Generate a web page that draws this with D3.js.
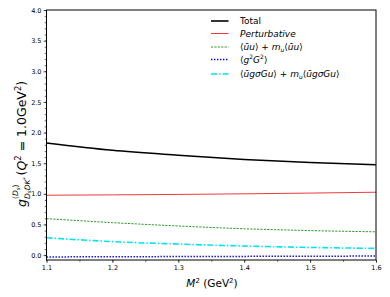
<!DOCTYPE html>
<html>
<head>
<meta charset="utf-8">
<script src="https://cdn.jsdelivr.net/npm/d3@7"></script>
<style>
  body { margin: 0; background: #fff; }
  text { font-family: "DejaVu Sans", sans-serif; }
</style>
</head>
<body>
<script>
const w = 390,
  h = 297;
const margin = { top: 10, right: 14, bottom: 37, left: 46.5 };

// M^2 values (GeV^2)
const m2 = [1.1, 1.2, 1.3, 1.4, 1.5, 1.6];
const total = [1.83, 1.71, 1.63, 1.56, 1.51, 1.475];
const perturbative = [0.977, 0.983, 0.990, 1.000, 1.012, 1.026];
const quarkCond = [0.595, 0.53, 0.475, 0.43, 0.40, 0.38];
const gluonCond = [-0.03, -0.027, -0.024, -0.021, -0.018, -0.016];
const mixedCond = [0.283, 0.22, 0.18, 0.148, 0.125, 0.11];

const xTicks = [1.1, 1.2, 1.3, 1.4, 1.5, 1.6];
const yTicks = [0, 0.5, 1, 1.5, 2, 2.5, 3, 3.5, 4];

const series = [
  { name: 'Total', values: total, color: '#000', width: 1.6, dash: null },
  { name: 'Perturbative', values: perturbative, color: '#f03a3a', width: 1, dash: null },
  { name: 'quark', values: quarkCond, color: '#1a8a1a', width: 0.9, dash: '2.2,1.2' },
  { name: 'gluon', values: gluonCond, color: '#0000ff', width: 1.5, dash: '1.4,1.6' },
  { name: 'mixed', values: mixedCond, color: '#00e5ee', width: 1.6, dash: '6,2,1.5,2' }
];

const xScale = d3.scaleLinear()
  .domain([1.1, 1.6])
  .range([margin.left, w - margin.right]);

const yScale = d3.scaleLinear()
  .domain([-0.08, 4.0])
  .range([h - margin.bottom, margin.top]);

const svg = d3.select('body')
  .append('svg')
  .attr('width', w)
  .attr('height', h);

const line = d3.line()
  .x((d, i) => xScale(m2[i]))
  .y(d => yScale(d))
  .curve(d3.curveMonotoneX);

const plot = svg.append('g');

plot.selectAll('path.series')
  .data(series)
  .enter()
  .append('path')
  .attr('class', 'series')
  .attr('d', d => line(d.values))
  .attr('fill', 'none')
  .attr('stroke', d => d.color)
  .attr('stroke-width', d => d.width)
  .attr('stroke-dasharray', d => d.dash);

// axes
const xAxis = d3.axisBottom(xScale)
  .tickValues(xTicks)
  .tickFormat(d3.format('.1f'))
  .tickSize(3)
  .tickPadding(2);

const xMinor = d3.axisBottom(xScale)
  .tickValues(d3.range(1.1, 1.6001, 0.05))
  .tickFormat('')
  .tickSize(1.8);

const yAxis = d3.axisLeft(yScale)
  .tickValues(yTicks)
  .tickFormat(d3.format('.1f'))
  .tickSize(3)
  .tickPadding(2);

const yMinor = d3.axisLeft(yScale)
  .tickValues(d3.range(-0.0, 4.0001, 0.1))
  .tickFormat('')
  .tickSize(1.8);

svg.append('g')
  .attr('transform', `translate(0, ${h - margin.bottom})`)
  .call(xMinor);
svg.append('g')
  .attr('class', 'x axis')
  .attr('transform', `translate(0, ${h - margin.bottom})`)
  .call(xAxis);
svg.append('g')
  .attr('transform', `translate(${margin.left}, 0)`)
  .call(yMinor);
svg.append('g')
  .attr('class', 'y axis')
  .attr('transform', `translate(${margin.left}, 0)`)
  .call(yAxis);

svg.selectAll('.domain').remove();
svg.selectAll('.tick line').attr('stroke', '#000').attr('stroke-width', 0.6);
svg.selectAll('.tick text').attr('font-size', 6.5).attr('fill', '#000');

// frame
svg.append('rect')
  .attr('x', margin.left)
  .attr('y', margin.top)
  .attr('width', w - margin.left - margin.right)
  .attr('height', h - margin.top - margin.bottom)
  .attr('fill', 'none')
  .attr('stroke', '#000')
  .attr('stroke-width', 1);

// x label
const xl = svg.append('text')
  .attr('x', 212)
  .attr('y', 286.5)
  .attr('text-anchor', 'middle')
  .attr('font-size', 10.5);
xl.append('tspan').attr('font-style', 'italic').text('M');
xl.append('tspan').attr('font-size', 7).attr('dy', -4).text('2');
xl.append('tspan').attr('dy', 4).text(' (GeV');
xl.append('tspan').attr('font-size', 7).attr('dy', -4).text('2');
xl.append('tspan').attr('dy', 4).text(')');

// y label (rotated)
const yl = svg.append('g').attr('transform', 'translate(26, 138.5) rotate(-90)');
yl.append('text').attr('font-size', 12.5).attr('x', -68.5)
  .attr('font-style', 'italic').text('g');
const ySup = yl.append('text').attr('font-size', 7.5).attr('x', -60.5).attr('y', -8);
ySup.append('tspan').text('(');
ySup.append('tspan').attr('font-style', 'italic').text('D');
ySup.append('tspan').attr('font-style', 'italic').attr('font-size', 5.5).attr('dy', 1.5).text('s');
ySup.append('tspan').attr('dy', -1.5).text(')');
const ySub = yl.append('text').attr('font-size', 7.5).attr('x', -60.5).attr('y', 3.5);
ySub.append('tspan').attr('font-style', 'italic').text('D');
ySub.append('tspan').attr('font-style', 'italic').attr('font-size', 5.5).attr('dy', 1.5).text('s');
ySub.append('tspan').attr('font-style', 'italic').attr('dy', -1.5).text('DK');
ySub.append('tspan').attr('font-size', 5.5).attr('dy', -3).text('*');
const yMain = yl.append('text').attr('font-size', 12.5).attr('x', -37);
yMain.append('tspan').text('(');
yMain.append('tspan').attr('font-style', 'italic').text('Q');
yMain.append('tspan').attr('font-size', 8.5).attr('dy', -5).text('2');
yMain.append('tspan').attr('dy', 5).text(' = 1.0GeV');
yMain.append('tspan').attr('font-size', 8.5).attr('dy', -5).text('2');
yMain.append('tspan').attr('dy', 5).text(')');

// legend
const legendRows = [24, 36.5, 50, 62.5, 77];
const legend = svg.append('g');
series.forEach((s, i) => {
  legend.append('line')
    .attr('x1', 211).attr('x2', 228.5)
    .attr('y1', legendRows[i] - 3).attr('y2', legendRows[i] - 3)
    .attr('stroke', s.color)
    .attr('stroke-width', s.width)
    .attr('stroke-dasharray', s.dash);
});

const lf = 9;
const lx = 240;
legend.append('text').attr('x', lx).attr('y', legendRows[0]).attr('font-size', lf).text('Total');
legend.append('text').attr('x', lx).attr('y', legendRows[1]).attr('font-size', lf)
  .attr('font-style', 'italic').text('Perturbative');

function bar(t, ch) {
  // letter with overline via combining macron
  t.append('tspan').attr('font-style', 'italic').text(ch + '\u0304');
}

const l3 = legend.append('text').attr('x', lx).attr('y', legendRows[2]).attr('font-size', lf);
l3.append('tspan').text('\u27E8');
bar(l3, 'u');
l3.append('tspan').attr('font-style', 'italic').text('u');
l3.append('tspan').text('\u27E9 + ');
l3.append('tspan').attr('font-style', 'italic').text('m');
l3.append('tspan').attr('font-style', 'italic').attr('font-size', 6).attr('dy', 2).text('u');
l3.append('tspan').attr('dy', -2).text('\u27E8');
bar(l3, 'u');
l3.append('tspan').attr('font-style', 'italic').text('u');
l3.append('tspan').text('\u27E9');

const l4 = legend.append('text').attr('x', lx).attr('y', legendRows[3]).attr('font-size', lf);
l4.append('tspan').text('\u27E8');
l4.append('tspan').attr('font-style', 'italic').text('g');
l4.append('tspan').attr('font-size', 6).attr('dy', -3.5).text('2');
l4.append('tspan').attr('font-style', 'italic').attr('dy', 3.5).text('G');
l4.append('tspan').attr('font-size', 6).attr('dy', -3.5).text('2');
l4.append('tspan').attr('dy', 3.5).text('\u27E9');

const l5 = legend.append('text').attr('x', lx).attr('y', legendRows[4]).attr('font-size', lf);
l5.append('tspan').text('\u27E8');
bar(l5, 'u');
l5.append('tspan').attr('font-style', 'italic').text('g\u03C3Gu');
l5.append('tspan').text('\u27E9 + ');
l5.append('tspan').attr('font-style', 'italic').text('m');
l5.append('tspan').attr('font-style', 'italic').attr('font-size', 6).attr('dy', 2).text('u');
l5.append('tspan').attr('dy', -2).text('\u27E8');
bar(l5, 'u');
l5.append('tspan').attr('font-style', 'italic').text('g\u03C3Gu');
l5.append('tspan').text('\u27E9');
</script>
</body>
</html>
